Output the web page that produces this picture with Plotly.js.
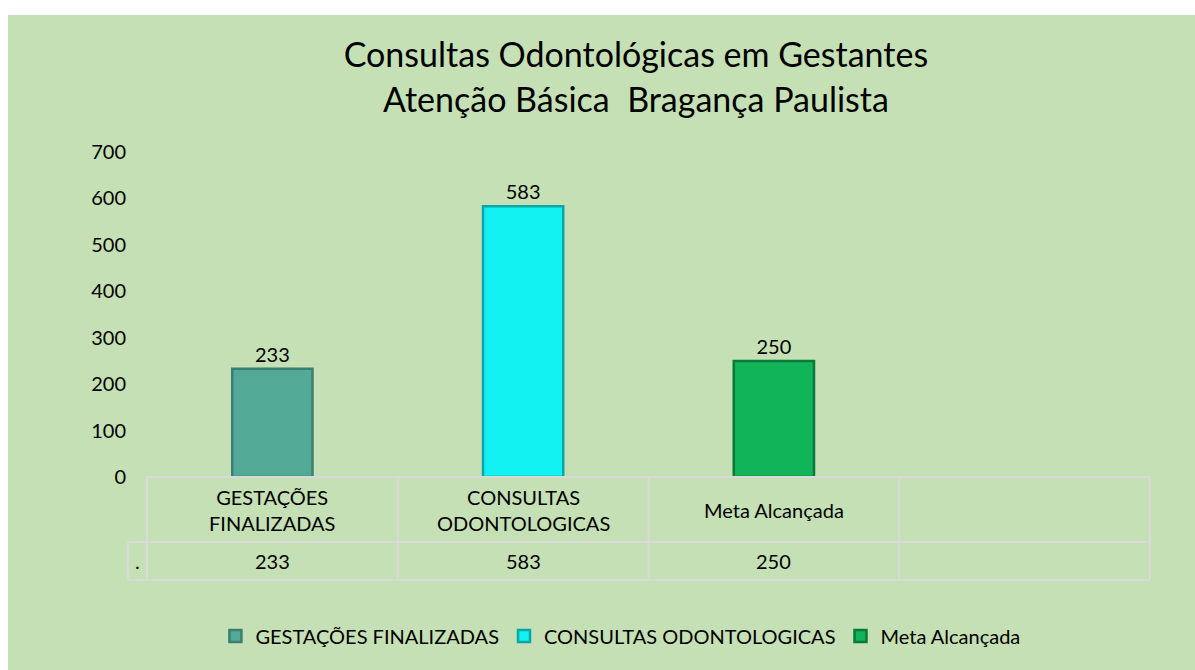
<!DOCTYPE html>
<html>
<head>
<meta charset="utf-8">
<script src="https://cdn.plot.ly/plotly-3.0.1.min.js"></script>
<style>
html,body{margin:0;padding:0;background:#ffffff;width:1195px;height:670px;overflow:hidden;}
#chart{position:absolute;left:8px;top:15px;width:1187px;height:655px;}
</style>
</head>
<body>
<div id="chart"></div>
<script>
const categories = ["GESTAÇÕES FINALIZADAS", "CONSULTAS ODONTOLOGICAS", "Meta Alcançada"];
const categoryLabels = ["GESTAÇÕES<br>FINALIZADAS", "CONSULTAS<br>ODONTOLOGICAS", "Meta Alcançada"];
const values = [233, 583, 250];
const emptyCategory = " ";
const barColors = ["#52a996", "#12f2f2", "#12b45a"];
const edgeColors = ["#3a7f70", "#0aa7a7", "#0a7a3c"];
const yTicks = [0, 100, 200, 300, 400, 500, 600, 700];

const FONT = "Lato, 'Open Sans', sans-serif";
const allCats = categories.concat([emptyCategory]);

const traces = categories.map((c, i) => ({
  type: "bar",
  name: c,
  x: [c],
  y: [values[i]],
  width: 0.32,
  marker: {color: barColors[i], line: {color: edgeColors[i], width: 2.5}},
  text: [String(values[i])],
  textposition: "outside",
  textfont: {family: FONT, size: 20, color: "#000"},
  cliponaxis: false,
  hoverinfo: "x+y"
}));

// table lines (structure only)
const lineStyle = {color: "#d9d9d9", width: 2};
const rowTop = 0, rowMid = -0.2, rowBot = -0.317, leftCell = -0.019;
const shapes = [];
shapes.push({type: "line", xref: "paper", yref: "paper", x0: 0, x1: 1, y0: rowTop, y1: rowTop, line: lineStyle});
shapes.push({type: "line", xref: "paper", yref: "paper", x0: leftCell, x1: 1, y0: rowMid, y1: rowMid, line: lineStyle});
shapes.push({type: "line", xref: "paper", yref: "paper", x0: leftCell, x1: 1, y0: rowBot, y1: rowBot, line: lineStyle});
shapes.push({type: "line", xref: "paper", yref: "paper", x0: leftCell, x1: leftCell, y0: rowMid, y1: rowBot, line: lineStyle});
for (let k = 0; k <= allCats.length; k++) {
  const xp = k / allCats.length;
  shapes.push({type: "line", xref: "paper", yref: "paper", x0: xp, x1: xp, y0: rowTop, y1: rowBot, line: lineStyle});
}

const annotations = [];
categories.forEach((c, i) => {
  annotations.push({xref: "x", yref: "paper", x: c, y: (rowTop + rowMid) / 2, text: categoryLabels[i],
    showarrow: false, font: {family: FONT, size: 20, color: "#000"}, yanchor: "middle", xanchor: "center"});
  annotations.push({xref: "x", yref: "paper", x: c, y: (rowMid + rowBot) / 2, text: String(values[i]),
    showarrow: false, font: {family: FONT, size: 20, color: "#000"}, yanchor: "middle", xanchor: "center"});
});
annotations.push({xref: "paper", yref: "paper", x: leftCell / 2, y: (rowMid + rowBot) / 2, text: ".",
  showarrow: false, font: {family: FONT, size: 20, color: "#000"}, yanchor: "middle", xanchor: "center"});

const layout = {
  width: 1187, height: 655,
  paper_bgcolor: "#c5e0b4",
  plot_bgcolor: "rgba(0,0,0,0)",
  margin: {l: 139, r: 45, t: 137, b: 193},
  title: {
    text: "Consultas Odontológicas em Gestantes<br>Atenção Básica\u00a0 Bragança Paulista",
    font: {family: FONT, size: 34, color: "#000"},
    xref: "container", x: 0.529, xanchor: "center",
    yref: "container", y: 0.92, yanchor: "top"
  },
  barmode: "overlay",
  showlegend: true,
  legend: {
    orientation: "h", x: 0.472, xanchor: "center", y: -0.489, yanchor: "middle",
    font: {family: FONT, size: 20, color: "#000"},
    bgcolor: "rgba(0,0,0,0)", itemwidth: 30, traceorder: "normal"
  },
  xaxis: {
    type: "category", categoryorder: "array", categoryarray: allCats,
    range: [-0.5, allCats.length - 0.5],
    showticklabels: false, showline: false, showgrid: false, zeroline: false, ticks: "", fixedrange: true
  },
  yaxis: {
    range: [0, 700], tickvals: yTicks, ticktext: yTicks.map(String),
    showline: false, showgrid: false, zeroline: false, ticks: "",
    ticklabelstandoff: 20,
    tickfont: {family: FONT, size: 20, color: "#000"}, fixedrange: true
  },
  shapes: shapes,
  annotations: annotations
};

Plotly.newPlot("chart", traces, layout, {displayModeBar: false, staticPlot: true});
</script>
</body>
</html>
